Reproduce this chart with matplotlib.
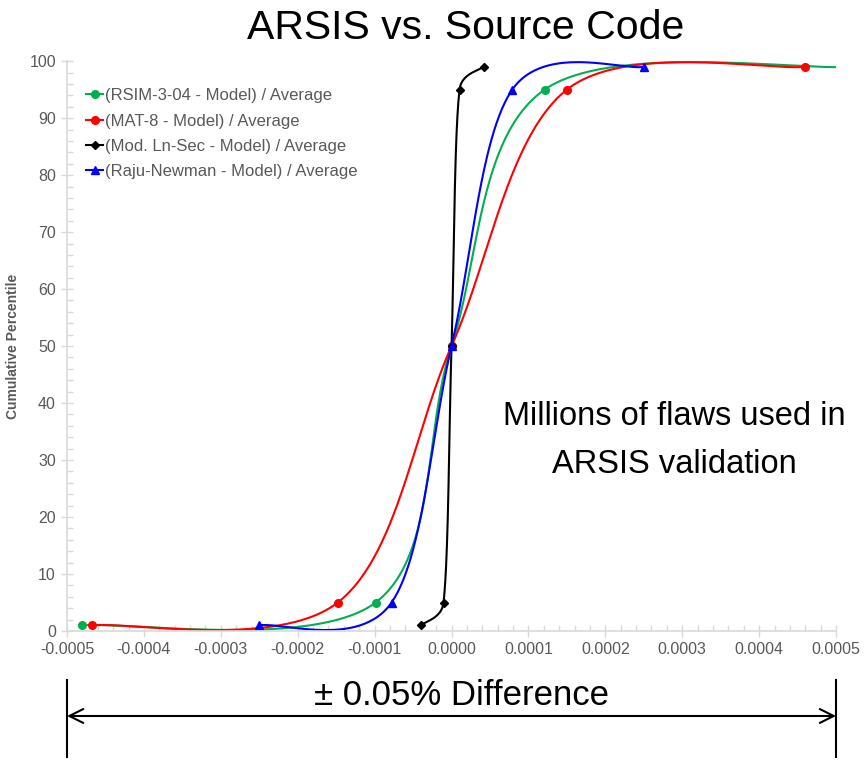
import numpy as np
import matplotlib
matplotlib.use("Agg")
import matplotlib.pyplot as plt

percentiles = [1, 5, 50, 95, 99]

rsim_x = [-0.000481, -0.0000988, 0.0, 0.000121, 0.00052]
mat8_x = [-0.000468, -0.000148, 0.0, 0.000150, 0.000460]
lnsec_x = [-0.000040, -0.0000104, 0.0, 0.0000104, 0.0000416]
raju_x = [-0.000250, -0.000078, 0.0, 0.000079, 0.000250]

labels = ["(RSIM-3-04 - Model) / Average",
          "(MAT-8 - Model) / Average",
          "(Mod. Ln-Sec - Model) / Average",
          "(Raju-Newman - Model) / Average"]
colors = ["#00B050", "#FF0000", "#000000", "#0000FF"]
markers = ["o", "o", "D", "^"]

x_ticks = [-0.0005, -0.0004, -0.0003, -0.0002, -0.0001, 0.0, 0.0001, 0.0002, 0.0003, 0.0004, 0.0005]
y_ticks = [0, 10, 20, 30, 40, 50, 60, 70, 80, 90, 100]

GREY = "#595959"
plt.rcParams["font.family"] = ["Liberation Sans", "DejaVu Sans"]


def cap(v, limit):
    n = np.hypot(*v)
    return v if n <= limit or n == 0 else v * limit / n


def smooth(xs, ys, sx=769 / 0.001, sy=570 / 100, n=60):
    # Excel like smoothed line: catmull-rom bezier, handles capped to half the segment (screen space)
    pts = np.column_stack([np.array(xs) * sx, np.array(ys) * sy]).astype(float)
    p = np.vstack([pts[0], pts, pts[-1]])
    t = np.linspace(0, 1, n)[:, None]
    out = []
    for i in range(1, len(p) - 2):
        p0, p1, p2, p3 = p[i - 1], p[i], p[i + 1], p[i + 2]
        d12 = np.hypot(*(p2 - p1))
        c1 = p1 + cap((p2 - p0) / 6, 0.5 * d12)
        c2 = p2 - cap((p3 - p1) / 6, 0.5 * d12)
        seg = (1 - t) ** 3 * p1 + 3 * (1 - t) ** 2 * t * c1 + 3 * (1 - t) * t ** 2 * c2 + t ** 3 * p2
        out.append(seg)
    out = np.vstack(out)
    return out[:, 0] / sx, out[:, 1] / sy


fig = plt.figure(figsize=(8.66, 7.64), dpi=100)
ax = fig.add_axes([0.0774, 0.174, 0.888, 0.746])

for xs, lab, c, m in zip([rsim_x, mat8_x, lnsec_x, raju_x], labels, colors, markers):
    ms = 4.5 if m == "D" else 5.5
    sx, sy = smooth(xs, percentiles)
    ax.plot(sx, sy, color=c, lw=1.5)
    ax.plot(xs, percentiles, linestyle="none", marker=m, color=c, ms=ms)
    ax.plot([], [], color=c, marker=m, ms=ms, lw=1.5, label=lab)

ax.set_xlim(-0.0005, 0.0005)
ax.set_ylim(0, 100)
ax.set_xticks(x_ticks)
ax.set_xticklabels(["%.4f" % v if v != 0 else "0.0000" for v in x_ticks])
ax.set_yticks(y_ticks)
ax.set_xticks(np.arange(-0.0005, 0.00050001, 0.00002), minor=True)
ax.set_yticks(np.arange(0, 101, 2), minor=True)

for s in ["top", "right"]:
    ax.spines[s].set_visible(False)
for s in ["left", "bottom"]:
    ax.spines[s].set_color("#D9D9D9")
    ax.spines[s].set_linewidth(1.2)

ax.tick_params(which="major", direction="inout", length=9, color="#D9D9D9", labelcolor=GREY,
               labelsize=11.5, width=1)
ax.tick_params(which="minor", direction="in", length=4, color="#D9D9D9", width=1)

ax.set_ylabel("Cumulative Percentile", color=GREY, fontsize=10, fontweight="bold")
ax.yaxis.set_label_coords(-0.061, 0.5)

leg = ax.legend(loc="upper left", bbox_to_anchor=(0.012, 0.97), frameon=False, fontsize=12,
                handlelength=1.0, handletextpad=0.1, labelspacing=0.62, borderaxespad=0.2)
for t in leg.get_texts():
    t.set_color(GREY)

fig.text(0.538, 0.964, "ARSIS vs. Source Code", ha="center", va="center", fontsize=29.5)

ax.text(0.79, 0.335, "Millions of flaws used in\nARSIS validation", transform=ax.transAxes,
        ha="center", va="center", fontsize=23.5, linespacing=1.7)

# bottom span annotation
tr = ax.get_xaxis_transform()
for xv in [x_ticks[0], x_ticks[-1]]:
    ax.plot([xv, xv], [-0.086, -0.221], transform=tr, color="black", lw=1.5, clip_on=False)
ax.annotate("", xy=(x_ticks[0], -0.149), xytext=(x_ticks[-1], -0.149), xycoords=tr, textcoords=tr,
            arrowprops=dict(arrowstyle="<->,head_length=1.0,head_width=0.5", color="black", lw=1.5,
                            shrinkA=0, shrinkB=0))
ax.text(0.0000125, -0.113, "\u00b1 0.05% Difference", transform=tr, ha="center", va="center",
        fontsize=25)

fig.savefig("out.png", dpi=100)
